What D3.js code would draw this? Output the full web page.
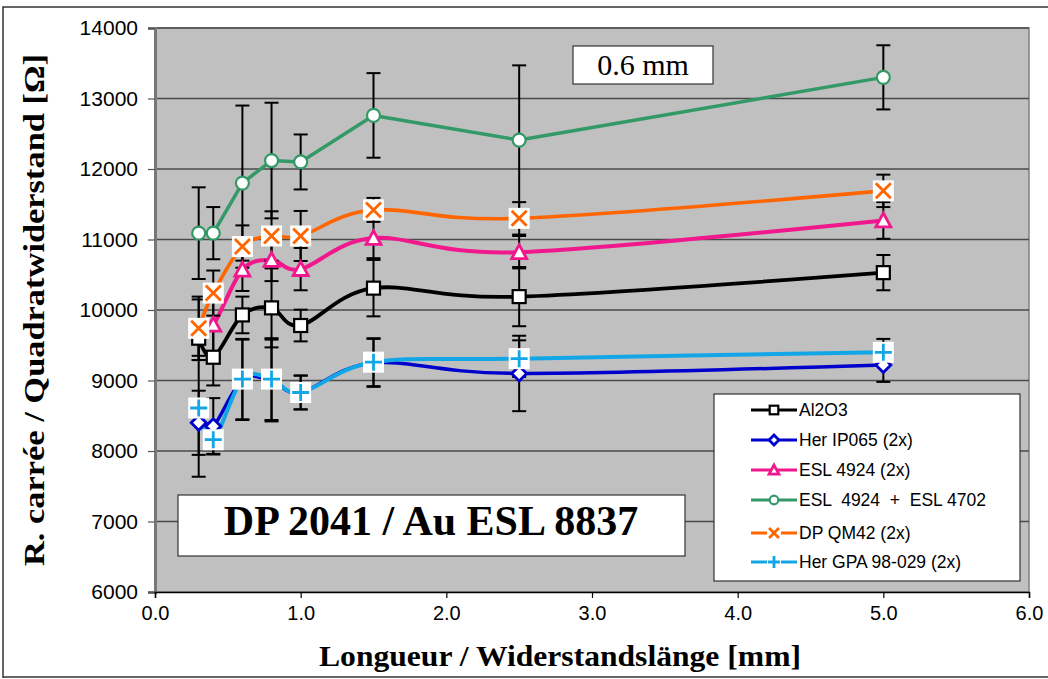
<!DOCTYPE html>
<html><head><meta charset="utf-8">
<script src="https://cdn.jsdelivr.net/npm/d3@7"></script>
<style>body{margin:0;background:#fff}svg{display:block}</style>
</head><body>
<svg id="c" width="1048" height="679"></svg>
<script>
// ---- data ----
const lengths = [0.3, 0.4, 0.6, 0.8, 1.0, 1.5, 2.5, 5.0];
const seriesNames = ["Al2O3", "Her IP065 (2x)", "ESL 4924 (2x)", "ESL  4924  +  ESL 4702", "DP QM42 (2x)", "Her GPA 98-029 (2x)"];
const al2o3      = [9600, 9330, 9930, 10030, 9780, 10310, 10190, 10530];
const herIP065   = [8400, 8350, 9010, 9000, 8830, 9250, 9100, 9220];
const esl4924    = [9720, 9790, 10570, 10710, 10580, 11020, 10820, 11270];
const esl4924_4702 = [11090, 11090, 11800, 12120, 12100, 12760, 12410, 13300];
const dpQM42     = [9740, 10240, 10900, 11050, 11050, 11420, 11300, 11690];
const herGPA     = [8610, 8160, 9020, 9020, 8830, 9260, 9310, 9400];
const errAl2o3   = [250, 400, 260, 560, 225, 400, 420, 250];
const errHerIP065= [455, 400, 570, 580, 240, 340, 535, 240];
const errEsl4924 = [430, 450, 300, 300, 300, 285, 230, 260];
const errEslMix  = [650, 370, 1100, 820, 390, 600, 1060, 455];
const errDpQM42  = [450, 320, 300, 350, 355, 170, 230, 230];
const errHerGPA  = [975, 200, 570, 580, 240, 340, 260, 190];
const xTicks = [0, 1, 2, 3, 4, 5, 6];
const yTicks = [6000, 7000, 8000, 9000, 10000, 11000, 12000, 13000, 14000];

const colors = ["#000000", "#0000cc", "#f0188c", "#339966", "#ff6600", "#12a6e6"];
const markers = ["square", "diamond", "triangle", "circle", "x", "plus"];
const smooth = [true, true, true, false, true, true];
const widths = [3.8, 3.5, 4, 3.5, 3.6, 4];
const values = [al2o3, herIP065, esl4924, esl4924_4702, dpQM42, herGPA];
const errors = [errAl2o3, errHerIP065, errEsl4924, errEslMix, errDpQM42, errHerGPA];

const svg = d3.select("#c");
const x = d3.scaleLinear().domain([0, 6]).range([155, 1029]);
const y = d3.scaleLinear().domain([6000, 14000]).range([592, 28]);

// outer frame
svg.append("path").attr("d", "M3,678 L3,7 L1050,7").attr("fill", "none").attr("stroke", "#333").attr("stroke-width", 1.5);
svg.append("line").attr("x1", 3).attr("x2", 1050).attr("y1", 677).attr("y2", 677).attr("stroke", "#333").attr("stroke-width", 1.5);

// plot area
svg.append("rect").attr("x", x(0)).attr("y", y(14000)).attr("width", x(6) - x(0)).attr("height", y(6000) - y(14000))
  .attr("fill", "#c0c0c0").attr("stroke", "#808080").attr("stroke-width", 1.5);

// gridlines
svg.append("g").selectAll("line").data(yTicks.slice(1)).join("line")
  .attr("x1", x(0)).attr("x2", x(6)).attr("y1", d => y(d)).attr("y2", d => y(d))
  .attr("stroke", "#4a4a4a").attr("stroke-width", 1.5);

// axes
const yAxis = d3.axisLeft(y).tickValues(yTicks).tickSize(7).tickPadding(10).tickFormat(d3.format("d"));
const gy = svg.append("g").attr("transform", `translate(${x(0)},0)`).call(yAxis);
gy.select(".domain").attr("stroke", "#777").attr("stroke-width", 3);
gy.selectAll(".tick line").attr("stroke", "#555").attr("stroke-width", 1.2);
gy.selectAll("text").attr("font-family", "Liberation Sans, Arial, sans-serif").attr("font-size", 21).attr("fill", "#000");

const xAxis = d3.axisBottom(x).tickValues(xTicks).tickSize(6).tickPadding(8).tickFormat(d3.format(".1f"));
const gx = svg.append("g").attr("transform", `translate(0,${y(6000)})`).call(xAxis);
gx.select(".domain").attr("stroke", "#000").attr("stroke-width", 1.5);
gx.selectAll(".tick line").attr("stroke", "#000").attr("stroke-width", 1.2);
gx.selectAll("text").attr("font-family", "Liberation Sans, Arial, sans-serif").attr("font-size", 20).attr("fill", "#000");

// titles
svg.append("text").attr("x", 560).attr("y", 666).attr("text-anchor", "middle")
  .attr("font-family", "Liberation Serif, Times New Roman, serif").attr("font-weight", "bold").attr("font-size", 29)
  .attr("textLength", 482).attr("lengthAdjust", "spacingAndGlyphs")
  .text("Longueur / Widerstandslänge [mm]");
svg.append("text").attr("transform", "translate(44,310) rotate(-90)").attr("text-anchor", "middle")
  .attr("font-family", "Liberation Serif, Times New Roman, serif").attr("font-weight", "bold").attr("font-size", 29)
  .attr("textLength", 512).attr("lengthAdjust", "spacingAndGlyphs")
  .text("R. carrée / Quadratwiderstand [Ω]");

// lines
const series = values.map((v, i) => ({ i, pts: lengths.map((l, k) => ({ x: l, y: v[k], e: errors[i][k] })) }));
series.forEach(s => {
  const line = d3.line().x(d => x(d.x)).y(d => y(d.y))
    .curve(smooth[s.i] ? d3.curveCardinal.tension(0) : d3.curveLinear);
  svg.append("path").attr("d", line(s.pts)).attr("fill", "none")
    .attr("stroke", colors[s.i]).attr("stroke-width", widths[s.i]).attr("stroke-linejoin", "round");
});

// error bars
const eg = svg.append("g").attr("stroke", "#000").attr("stroke-width", 2);
series.forEach(s => {
  s.pts.forEach(p => {
    const cx = x(p.x), t = y(p.y + p.e), b = y(p.y - p.e);
    eg.append("line").attr("x1", cx).attr("x2", cx).attr("y1", t).attr("y2", b);
    eg.append("line").attr("x1", cx - 7).attr("x2", cx + 7).attr("y1", t).attr("y2", t);
    eg.append("line").attr("x1", cx - 7).attr("x2", cx + 7).attr("y1", b).attr("y2", b);
  });
});

// markers
function drawMarker(g, type, cx, cy, col, s) {
  if (type === "square") {
    g.append("rect").attr("x", cx - 6.5 * s).attr("y", cy - 6.5 * s).attr("width", 13 * s).attr("height", 13 * s)
      .attr("fill", "#fff").attr("stroke", col).attr("stroke-width", 2.2);
  } else if (type === "diamond") {
    const r = 7.5 * s;
    g.append("path").attr("d", `M${cx},${cy - r}L${cx + r},${cy}L${cx},${cy + r}L${cx - r},${cy}Z`)
      .attr("fill", "#fff").attr("stroke", col).attr("stroke-width", 2.8);
  } else if (type === "triangle") {
    const r = 7.5 * s;
    g.append("path").attr("d", `M${cx},${cy - r}L${cx + r},${cy + r * 0.85}L${cx - r},${cy + r * 0.85}Z`)
      .attr("fill", "#fff").attr("stroke", col).attr("stroke-width", 2.8);
  } else if (type === "circle") {
    g.append("circle").attr("cx", cx).attr("cy", cy).attr("r", 6.5 * s)
      .attr("fill", "#fff").attr("stroke", col).attr("stroke-width", 2.2);
  } else if (type === "x" || type === "plus") {
    const h = 10.5 * s, a = 7.5 * s;
    g.append("rect").attr("x", cx - h).attr("y", cy - h).attr("width", 2 * h).attr("height", 2 * h).attr("fill", "#fff");
    if (type === "x") {
      g.append("path").attr("d", `M${cx - a},${cy - a}L${cx + a},${cy + a}M${cx + a},${cy - a}L${cx - a},${cy + a}`)
        .attr("stroke", col).attr("stroke-width", 2.8);
    } else {
      g.append("path").attr("d", `M${cx - a - 1},${cy}L${cx + a + 1},${cy}M${cx},${cy - a - 1}L${cx},${cy + a + 1}`)
        .attr("stroke", col).attr("stroke-width", 2.8);
    }
  }
}
const mg = svg.append("g");
series.forEach(s => s.pts.forEach(p => drawMarker(mg, markers[s.i], x(p.x), y(p.y), colors[s.i], 1)));

// "0.6 mm" box
svg.append("rect").attr("x", 573).attr("y", 46).attr("width", 140).attr("height", 38)
  .attr("fill", "#fff").attr("stroke", "#333").attr("stroke-width", 1.2);
svg.append("text").attr("x", 643).attr("y", 75).attr("text-anchor", "middle")
  .attr("font-family", "Liberation Serif, Times New Roman, serif").attr("font-size", 30).text("0.6 mm");

// title box
svg.append("rect").attr("x", 178).attr("y", 495).attr("width", 507).attr("height", 61)
  .attr("fill", "#fff").attr("stroke", "#333").attr("stroke-width", 1.2);
svg.append("text").attr("x", 431).attr("y", 535).attr("text-anchor", "middle")
  .attr("font-family", "Liberation Serif, Times New Roman, serif").attr("font-weight", "bold").attr("font-size", 42)
  .text("DP 2041 / Au ESL 8837");

// legend
const lg = svg.append("g");
lg.append("rect").attr("x", 714).attr("y", 394).attr("width", 306).attr("height", 187)
  .attr("fill", "#fff").attr("stroke", "#333").attr("stroke-width", 1.2);
const legY = [410, 440, 470, 500, 533, 562];
seriesNames.forEach((n, i) => {
  const yy = legY[i];
  lg.append("line").attr("x1", 751).attr("x2", 797).attr("y1", yy).attr("y2", yy)
    .attr("stroke", colors[i]).attr("stroke-width", 3);
  drawMarker(lg, markers[i], 774, yy, colors[i], 0.66);
  lg.append("text").attr("x", 799).attr("y", yy + 6).attr("font-family", "Liberation Sans, Arial, sans-serif")
    .attr("font-size", 17.5).attr("xml:space", "preserve").style("white-space", "pre").text(n);
});
</script>
</body></html>
